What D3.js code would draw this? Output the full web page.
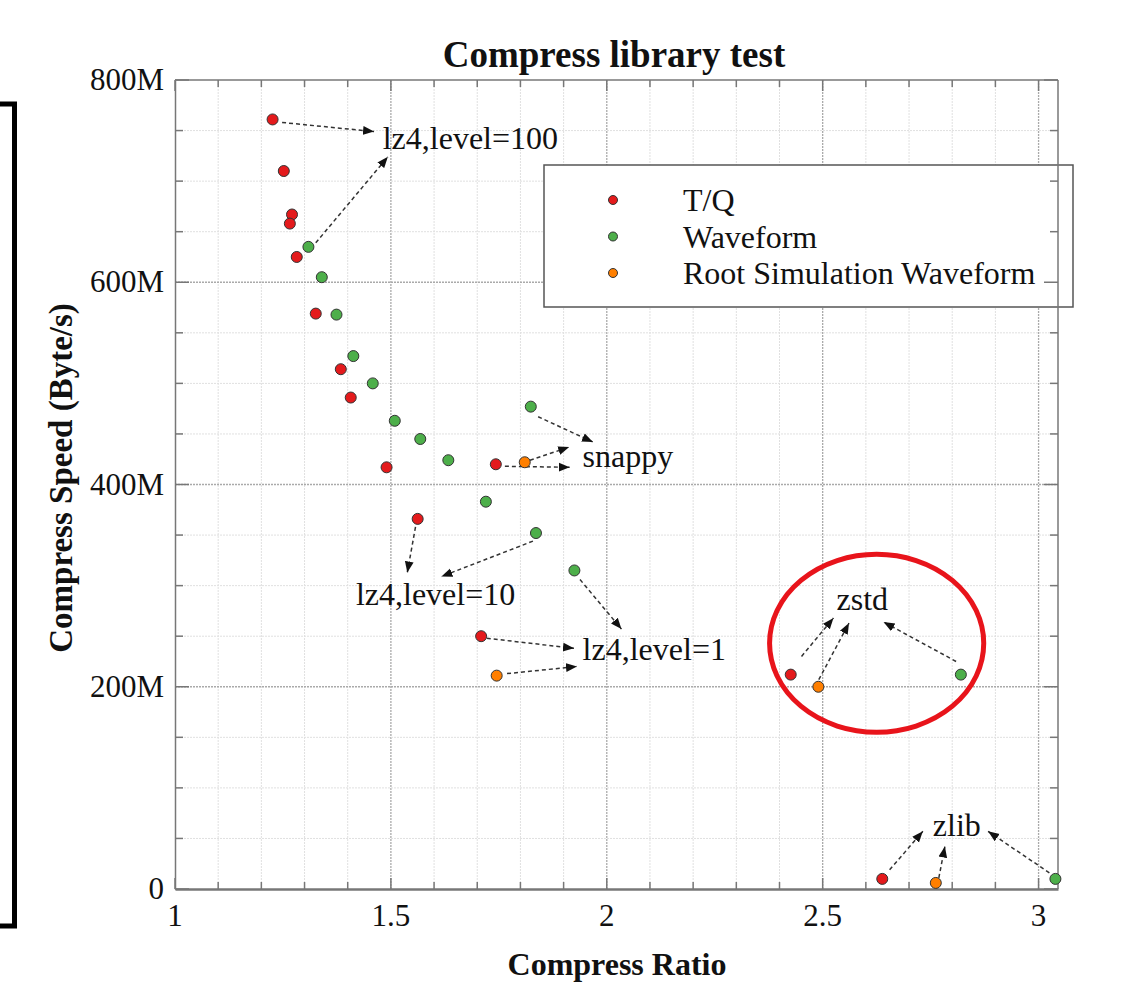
<!DOCTYPE html>
<html lang="en">
    <head>
        <meta charset="utf-8">
        <title>Compress library test</title>
        <script type="text/javascript" src="https://d3js.org/d3.v7.min.js"></script>
        <style>
            body { margin: 0; background: #fff; }
            text { font-family: "Liberation Serif", "Times New Roman", serif; fill: #111; }
        </style>
    </head>
    <body>
        <script type="text/javascript">

        //Data - compress ratio vs speed (M byte/s)
        const seriesNames = ["T/Q", "Waveform", "Root Simulation Waveform"];
        const seriesColors = ["#e41a1c", "#4daf4a", "#ff7f00"];

        const tqRatio = [1.226, 1.252, 1.271, 1.266, 1.282, 1.326, 1.384, 1.407, 1.490, 1.562, 1.743, 1.709, 2.426, 2.638];
        const tqSpeed = [761, 710, 667, 658, 625, 569, 514, 486, 417, 366, 420, 250, 212, 10];

        const waveRatio = [1.309, 1.340, 1.374, 1.413, 1.458, 1.509, 1.568, 1.633, 1.720, 1.824, 1.836, 1.925, 2.820, 3.039];
        const waveSpeed = [635, 605, 568, 527, 500, 463, 445, 424, 383, 477, 352, 315, 212, 10];

        const rootRatio = [1.810, 1.745, 2.490, 2.762];
        const rootSpeed = [422, 211, 200, 6];

        const xTicks = [1, 1.5, 2, 2.5, 3];
        const xTickLabels = ["1", "1.5", "2", "2.5", "3"];
        const yTicks = [0, 200, 400, 600, 800];
        const yTickLabels = ["0", "200M", "400M", "600M", "800M"];

        //annotation labels: text, ratio, speed
        const labelTexts = ["lz4,level=100", "snappy", "lz4,level=10", "lz4,level=1", "zstd", "zlib"];
        const labelRatio = [1.481, 1.944, 1.419, 1.944, 2.532, 2.755];
        const labelSpeed = [732, 417, 281, 226, 276, 52];

        //arrows: [ratio0, speed0, ratio1, speed1]
        const arrows = [
            [1.248, 758, 1.461, 749],
            [1.326, 639, 1.493, 724],
            [1.841, 467, 1.968, 442],
            [1.822, 424, 1.913, 437],
            [1.764, 418, 1.914, 417],
            [1.557, 358, 1.538, 313],
            [1.829, 344, 1.617, 309],
            [1.938, 306, 2.034, 257],
            [1.722, 248, 1.924, 238],
            [1.769, 213, 1.931, 220],
            [2.451, 230, 2.525, 268],
            [2.491, 207, 2.561, 263],
            [2.809, 225, 2.641, 264],
            [2.655, 19, 2.732, 57],
            [2.769, 11, 2.783, 42],
            [3.025, 16, 2.883, 57]
        ];

        //highlight ellipse round zstd: ratio, speed, radius in ratio, radius in speed
        const zstdCircle = [2.625, 243, 0.248, 88];

        //Consts
        const width = 1124;
        const height = 988;

        //Scales
        const xScale = d3.scaleLinear()
                        .domain([1, 3.045])
                        .range([175, 1058]);

        const yScale = d3.scaleLinear()
                        .domain([0, 800])
                        .range([889, 80]);

        const x0 = xScale.range()[0], x1 = xScale.range()[1];
        const y0 = yScale.range()[0], y1 = yScale.range()[1];

        //SVG
        const svg = d3.select("body")
                    .append("svg")
                    .attr("width", width)
                    .attr("height", height);

        svg.append("defs").append("marker")
            .attr("id", "arrow")
            .attr("viewBox", "0 0 10 10")
            .attr("refX", 10)
            .attr("refY", 5)
            .attr("markerWidth", 11)
            .attr("markerHeight", 11)
            .attr("markerUnits", "userSpaceOnUse")
            .attr("orient", "auto")
            .append("path")
            .attr("d", "M0,1 L10,5 L0,9 Z")
            .attr("fill", "#111");

        //Grid
        const xMinor = d3.range(11, 31).map(d => d / 10);
        const yMinor = d3.range(1, 16).map(d => d * 50);

        svg.append("g")
            .selectAll("line")
            .data(xMinor)
            .enter()
            .append("line")
            .attr("x1", d => xScale(d))
            .attr("x2", d => xScale(d))
            .attr("y1", y0)
            .attr("y2", y1)
            .attr("stroke", d => xTicks.includes(d) ? "#aaa" : "#e0e0e0")
            .attr("stroke-width", d => xTicks.includes(d) ? 1.3 : 1)
            .attr("stroke-dasharray", "2,1");

        svg.append("g")
            .selectAll("line")
            .data(yMinor)
            .enter()
            .append("line")
            .attr("x1", x0)
            .attr("x2", x1)
            .attr("y1", d => yScale(d))
            .attr("y2", d => yScale(d))
            .attr("stroke", d => yTicks.includes(d) ? "#aaa" : "#e0e0e0")
            .attr("stroke-width", d => yTicks.includes(d) ? 1.3 : 1)
            .attr("stroke-dasharray", "2,1");

        //Legend box (under the frame)
        svg.append("rect")
            .attr("x", 544)
            .attr("y", 165)
            .attr("width", 529)
            .attr("height", 142)
            .attr("fill", "#fff")
            .attr("stroke", "#555")
            .attr("stroke-width", 1.5);

        //Axes - ticks inside on all four sides
        const xAllTicks = d3.range(10, 31).map(d => d / 10);
        const yAllTicks = d3.range(0, 17).map(d => d * 50);
        const isMajorX = d => Math.abs(d * 2 - Math.round(d * 2)) < 1e-6;
        const isMajorY = d => d % 200 === 0;

        const bottomAxis = d3.axisBottom(xScale)
                             .tickValues(xAllTicks)
                             .tickSize(0)
                             .tickFormat("");
        svg.append("g")
            .attr("transform", "translate(0," + y0 + ")")
            .call(bottomAxis)
            .call(g => g.select(".domain").attr("stroke", "#777").attr("stroke-width", 2.5));

        const leftAxis = d3.axisLeft(yScale)
                           .tickValues(yAllTicks)
                           .tickSize(0)
                           .tickFormat("");
        svg.append("g")
            .attr("transform", "translate(" + x0 + ",0)")
            .call(leftAxis)
            .call(g => g.select(".domain").attr("stroke", "#777").attr("stroke-width", 1.5));

        svg.append("line")
            .attr("x1", x0).attr("x2", x1)
            .attr("y1", y1).attr("y2", y1)
            .attr("stroke", "#777").attr("stroke-width", 1.5);
        svg.append("line")
            .attr("x1", x1).attr("x2", x1)
            .attr("y1", y1).attr("y2", y0)
            .attr("stroke", "#777").attr("stroke-width", 1.5);

        const tickG = svg.append("g")
                         .attr("stroke", "#777")
                         .attr("stroke-width", 1.5);

        xAllTicks.forEach(d => {
            const len = isMajorX(d) ? 11 : 7;
            tickG.append("line").attr("x1", xScale(d)).attr("x2", xScale(d)).attr("y1", y0).attr("y2", y0 - len);
            tickG.append("line").attr("x1", xScale(d)).attr("x2", xScale(d)).attr("y1", y1).attr("y2", y1 + len);
        });
        yAllTicks.forEach(d => {
            const len = isMajorY(d) ? 14 : 8;
            tickG.append("line").attr("x1", x0).attr("x2", x0 + len).attr("y1", yScale(d)).attr("y2", yScale(d));
            tickG.append("line").attr("x1", x1).attr("x2", x1 - len).attr("y1", yScale(d)).attr("y2", yScale(d));
        });

        //Tick labels
        svg.append("g")
            .selectAll("text")
            .data(xTicks)
            .enter()
            .append("text")
            .text((d, i) => xTickLabels[i])
            .attr("x", d => xScale(d))
            .attr("y", 926)
            .attr("text-anchor", "middle")
            .attr("font-size", 31);

        svg.append("g")
            .selectAll("text")
            .data(yTicks)
            .enter()
            .append("text")
            .text((d, i) => yTickLabels[i])
            .attr("x", 164)
            .attr("y", d => yScale(d) + 10)
            .attr("text-anchor", "end")
            .attr("font-size", 31);

        //Axis titles
        svg.append("text")
            .text("Compress library test")
            .attr("x", 614)
            .attr("y", 67)
            .attr("text-anchor", "middle")
            .attr("font-size", 37)
            .attr("font-weight", "bold");

        svg.append("text")
            .text("Compress Ratio")
            .attr("x", 617)
            .attr("y", 975)
            .attr("text-anchor", "middle")
            .attr("font-size", 32)
            .attr("font-weight", "bold");

        svg.append("text")
            .text("Compress Speed (Byte/s)")
            .attr("transform", "translate(72,478) rotate(-90)")
            .attr("text-anchor", "middle")
            .attr("font-size", 33)
            .attr("font-weight", "bold");

        //Arrows
        svg.append("g")
            .selectAll("line")
            .data(arrows)
            .enter()
            .append("line")
            .attr("x1", d => xScale(d[0]))
            .attr("y1", d => yScale(d[1]))
            .attr("x2", d => xScale(d[2]))
            .attr("y2", d => yScale(d[3]))
            .attr("stroke", "#333")
            .attr("stroke-width", 1.5)
            .attr("stroke-dasharray", "4,3")
            .attr("marker-end", "url(#arrow)");

        //Points
        const series = [
            { name: seriesNames[0], color: seriesColors[0], ratio: tqRatio, speed: tqSpeed },
            { name: seriesNames[1], color: seriesColors[1], ratio: waveRatio, speed: waveSpeed },
            { name: seriesNames[2], color: seriesColors[2], ratio: rootRatio, speed: rootSpeed }
        ];

        series.forEach(s => {
            svg.append("g")
                .selectAll("circle")
                .data(s.ratio.map((r, i) => ({ r: r, s: s.speed[i] })))
                .enter()
                .append("circle")
                .attr("cx", d => xScale(d.r))
                .attr("cy", d => yScale(d.s))
                .attr("r", 5.5)
                .attr("fill", s.color)
                .attr("stroke", "#333")
                .attr("stroke-width", 1);
        });

        //Annotation labels
        svg.append("g")
            .selectAll("text")
            .data(labelTexts)
            .enter()
            .append("text")
            .text(d => d)
            .attr("x", (d, i) => xScale(labelRatio[i]))
            .attr("y", (d, i) => yScale(labelSpeed[i]))
            .attr("font-size", 32);

        //Legend content
        const legend = svg.append("g")
                          .selectAll("g")
                          .data(series)
                          .enter()
                          .append("g")
                          .attr("transform", (d, i) => "translate(0," + (200 + i * 36.5) + ")");
        legend.append("circle")
            .attr("cx", 613)
            .attr("cy", 0)
            .attr("r", 4.5)
            .attr("fill", d => d.color)
            .attr("stroke", "#333")
            .attr("stroke-width", 1);
        legend.append("text")
            .text(d => d.name)
            .attr("x", 683)
            .attr("y", 11)
            .attr("font-size", 32);

        //Highlight ellipse
        svg.append("ellipse")
            .attr("cx", xScale(zstdCircle[0]))
            .attr("cy", yScale(zstdCircle[1]))
            .attr("rx", xScale(zstdCircle[0] + zstdCircle[2]) - xScale(zstdCircle[0]))
            .attr("ry", yScale(zstdCircle[1] - zstdCircle[3]) - yScale(zstdCircle[1]))
            .attr("fill", "none")
            .attr("stroke", "#e8141b")
            .attr("stroke-width", 5);

        //Left bracket
        svg.append("path")
            .attr("d", "M0,104 H14.5 V926 H0")
            .attr("fill", "none")
            .attr("stroke", "#000")
            .attr("stroke-width", 5);

        </script>
    </body>
</html>
